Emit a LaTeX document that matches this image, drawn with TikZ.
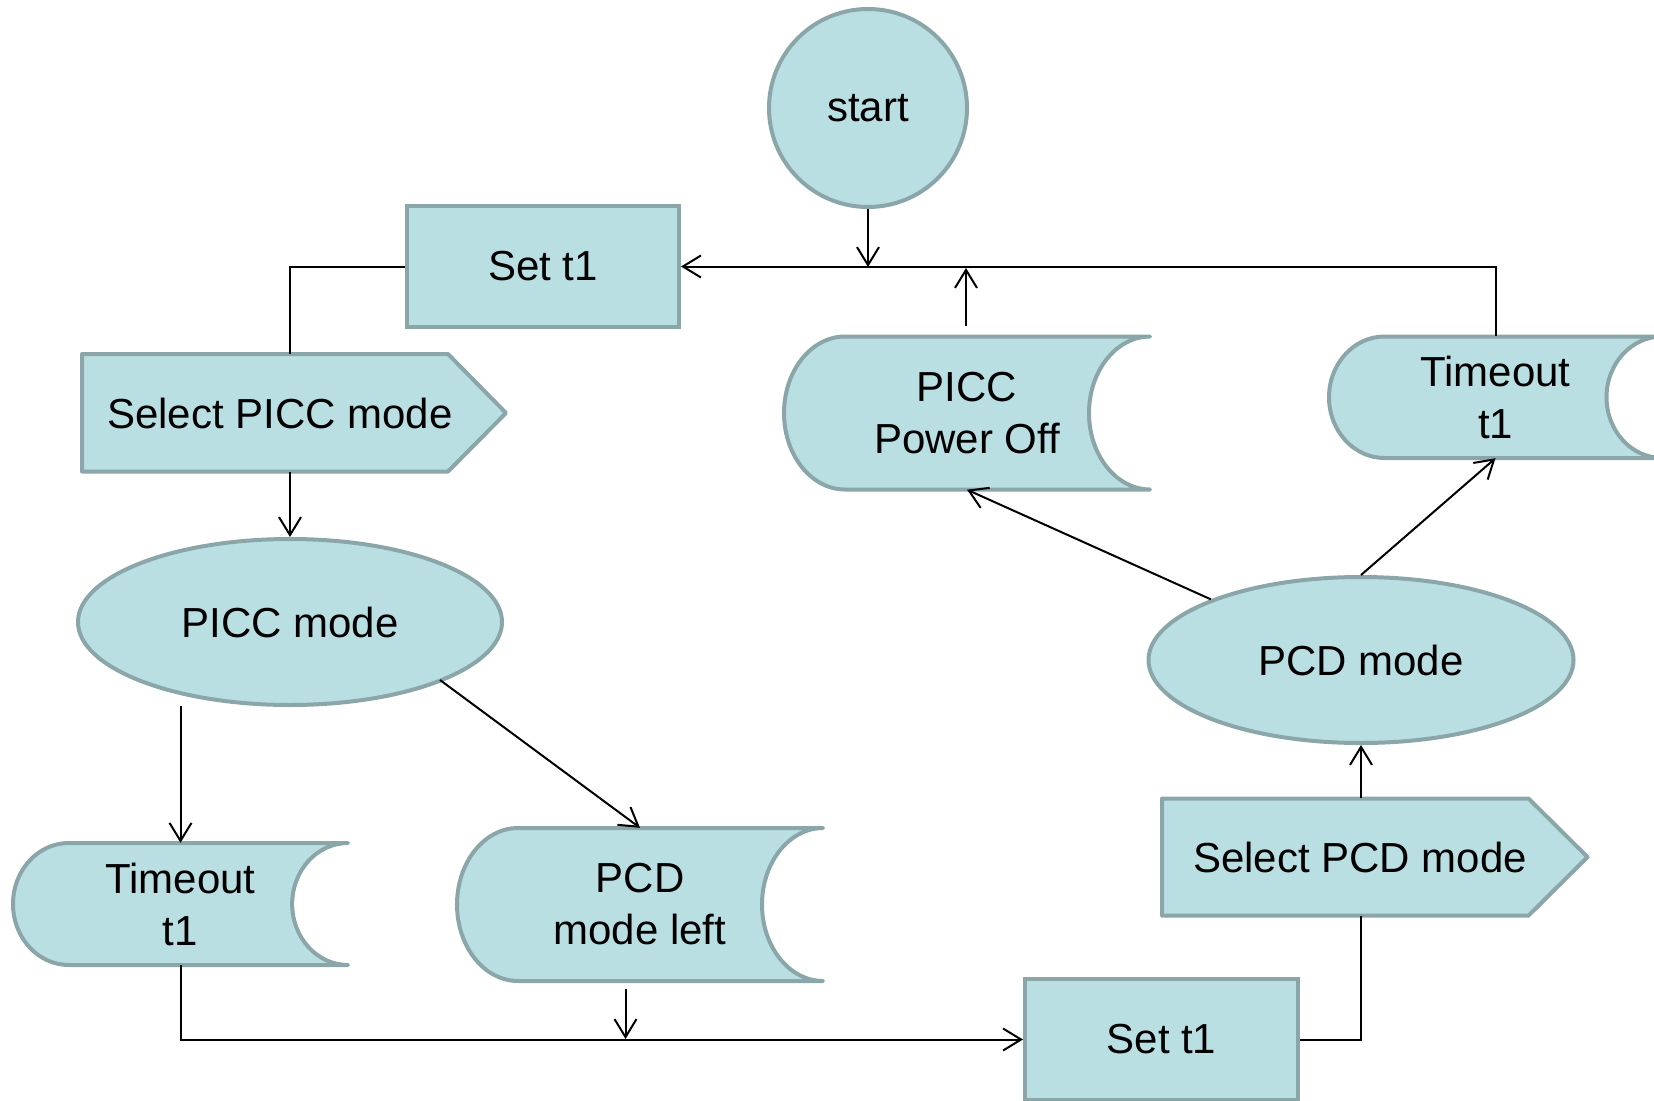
\documentclass[tikz,border=0pt]{standalone}
\usepackage{fontspec}
\setmainfont{Liberation Sans}
\usetikzlibrary{arrows.meta,shapes.geometric,calc}
\definecolor{boxfill}{RGB}{185,223,227}
\definecolor{boxline}{RGB}{139,166,169}
\newcommand{\stdata}[6]{%
  \pgfmathsetmacro\sdR{(#4-#2)/6}%
  \pgfmathsetmacro\sdH{(#5-#3)/2}%
  \pgfmathsetmacro\sdW{#4-#2}%
  \pgfmathsetmacro\sdHH{#5-#3}%
  \draw[shp] (#2+\sdR,#3) -- (#4,#3)
     arc[start angle=90,end angle=270,x radius=\sdR pt,y radius=\sdH pt]
     -- (#2+\sdR,#5)
     arc[start angle=270,end angle=90,x radius=\sdR pt,y radius=\sdH pt] -- cycle;
  \node[lbl,minimum width=\sdW pt,minimum height=\sdHH pt] (#1) at ({(#2+#4)/2},{(#3+#5)/2}) {#6};
}
\begin{document}
\begin{tikzpicture}[x=1pt,y=-1pt,
  shp/.style={draw=boxline,fill=boxfill,line width=4pt,line join=round,line cap=round},
  lbl/.style={font=\fontsize{42}{52}\selectfont,align=center,inner sep=0pt},
  conn/.style={line width=2pt},
  arr/.style={conn,-{Straight Barb[length=18pt,width=22pt]}}]
\useasboundingbox (0,0) rectangle (1654,1100);

% shapes
\node[shp,circle,minimum size=198pt,lbl] (start) at (868,108) {start};
\node[shp,rectangle,line join=miter,minimum width=272pt,minimum height=121pt,lbl] (set1) at (543,266.5) {Set t1};

\draw[shp] (82,354) -- (448,354) -- (506,413) -- (448,471.5) -- (82,471.5) -- cycle;
\node[lbl,minimum width=396pt,minimum height=117.5pt] (selpicc) at (280,413) {Select PICC mode};

\node[shp,ellipse,minimum width=424pt,minimum height=166pt,lbl] (piccmode) at (290,622) {PICC mode};
\node[shp,ellipse,minimum width=425pt,minimum height=166pt,lbl] (pcdmode) at (1361,660) {PCD mode};

\draw[shp] (1162,798.5) -- (1528.5,798.5) -- (1587.5,857) -- (1528.5,915.6) -- (1162,915.6) -- cycle;
\node[lbl,minimum width=396pt,minimum height=117pt] (selpcd) at (1360,857) {Select PCD mode};

\stdata{ppo}{784}{336.5}{1150}{489.5}{PICC\\Power Off}
\stdata{toR}{1329}{336.5}{1662}{458}{Timeout\\t1}
\stdata{toL}{13}{843}{348}{965}{Timeout\\t1}
\stdata{pcdl}{457}{828}{823}{981}{PCD\\mode left}

\node[shp,rectangle,line join=miter,minimum width=273pt,minimum height=121pt,lbl] (set2) at (1161.5,1039.5) {Set t1};

% connectors
\coordinate (j1) at (868,267);
\draw[arr] (start.south) -- (j1);
\draw[arr] (toR.north) |- (set1.east);
\coordinate (ppoA) at (966,326);
\coordinate (ppoB) at (966,268);
\draw[arr] (ppoA) -- (ppoB);

\draw[conn] (set1.west) -| (piccmode.north |- selpicc.north);
\draw[arr] (piccmode.north |- selpicc.south) -- (piccmode.north);

\coordinate (pmA) at (180.5,706);
\draw[arr] (pmA) -- (toL.north);
\coordinate (pmB) at (440,680);
\draw[arr] (pmB) -- (pcdl.north);

\coordinate (plA) at (625.5,989);
\coordinate (plB) at (625.5,1039);
\draw[arr] (plA) -- (plB);

\draw[arr] (toL.south) |- (set2.west);

\draw[conn] (set2.east) -| (pcdmode.south |- selpcd.south);
\draw[arr] (pcdmode.south |- selpcd.north) -- (pcdmode.south);

\draw[arr] (pcdmode.158) -- (ppo.south);
\draw[arr] (pcdmode.north) -- (toR.south);
\end{tikzpicture}
\end{document}
